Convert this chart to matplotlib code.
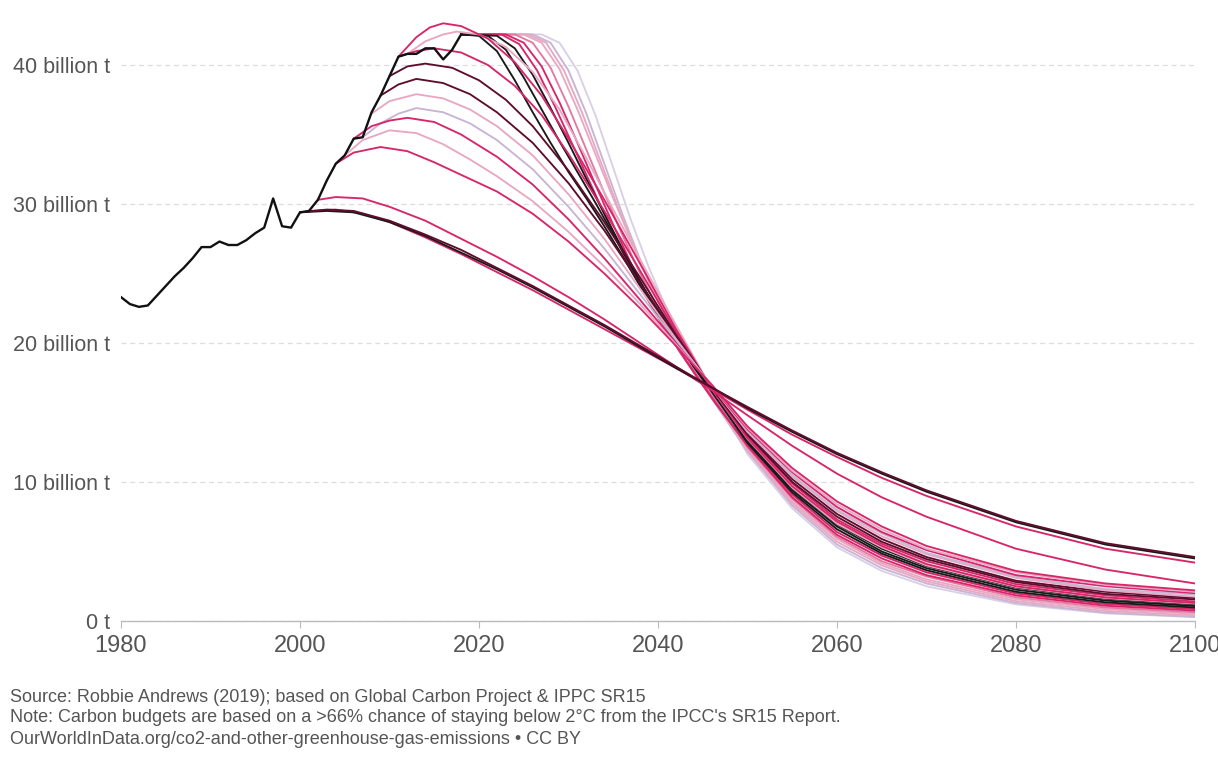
import matplotlib
matplotlib.use("Agg")
import matplotlib.pyplot as plt

plt.rcParams['font.family'] = ['Liberation Sans', 'DejaVu Sans']

# Historical global CO2 emissions (billion t)
hist_years = list(range(1980, 2019))
hist_co2 = [23.3, 22.8, 22.6, 22.7, 23.4, 24.1, 24.8, 25.4, 26.1, 26.9,
            26.9, 27.3, 27.05, 27.05, 27.4, 27.9, 28.3, 30.4, 28.4, 28.3,
            29.4, 29.5, 30.3, 31.7, 32.9, 33.5, 34.7, 34.8, 36.6, 37.8,
            39.2, 40.6, 40.8, 40.8, 41.2, 41.2, 40.4, 41.1, 42.2]

# Mitigation pathways, (year, billion t)
path_2000a = [(2000, 29.4), (2003, 29.6), (2006, 29.5), (2010, 28.8), (2014, 27.8), (2018, 26.7),
              (2022, 25.4), (2026, 24.1), (2030, 22.7), (2034, 21.3), (2038, 19.8), (2042, 18.3),
              (2046, 16.8), (2050, 15.4), (2055, 13.7), (2060, 12.1), (2065, 10.7), (2070, 9.4),
              (2080, 7.2), (2090, 5.6), (2100, 4.6)]
path_2000b = [(2000, 29.4), (2003, 29.5), (2006, 29.4), (2010, 28.7), (2014, 27.7), (2018, 26.5),
              (2022, 25.3), (2026, 24.0), (2030, 22.6), (2034, 21.2), (2038, 19.7), (2042, 18.2),
              (2046, 16.8), (2050, 15.3), (2055, 13.6), (2060, 12.0), (2065, 10.6), (2070, 9.3),
              (2080, 7.1), (2090, 5.5), (2100, 4.5)]
path_2001 = [(2001, 29.5), (2004, 29.6), (2007, 29.3), (2010, 28.7), (2014, 27.6), (2018, 26.4),
             (2022, 25.1), (2026, 23.8), (2030, 22.4), (2034, 21.0), (2038, 19.6), (2042, 18.2),
             (2046, 16.7), (2050, 15.2), (2055, 13.4), (2060, 11.8), (2065, 10.3), (2070, 9.0),
             (2080, 6.8), (2090, 5.2), (2100, 4.2)]
path_2002 = [(2002, 30.3), (2004, 30.5), (2007, 30.4), (2010, 29.8), (2014, 28.8), (2018, 27.5),
             (2022, 26.2), (2026, 24.8), (2030, 23.3), (2034, 21.7), (2038, 20.0), (2042, 18.3),
             (2046, 16.6), (2050, 14.8), (2055, 12.6), (2060, 10.6), (2065, 8.9), (2070, 7.5),
             (2080, 5.2), (2090, 3.7), (2100, 2.7)]
path_2004 = [(2004, 32.9), (2006, 33.7), (2009, 34.1), (2012, 33.8), (2015, 33.0), (2018, 32.1),
             (2022, 30.9), (2026, 29.3), (2030, 27.3), (2034, 25.0), (2038, 22.5), (2042, 19.8),
             (2046, 17.0), (2050, 14.0), (2055, 11.0), (2060, 8.6), (2065, 6.8), (2070, 5.4),
             (2080, 3.6), (2090, 2.7), (2100, 2.2)]
path_2005 = [(2005, 33.5), (2007, 34.6), (2010, 35.3), (2013, 35.1), (2016, 34.3), (2019, 33.2),
             (2022, 32.0), (2026, 30.2), (2030, 28.0), (2034, 25.5), (2038, 22.8), (2042, 19.9),
             (2046, 17.0), (2050, 13.9), (2055, 10.8), (2060, 8.4), (2065, 6.6), (2070, 5.2),
             (2080, 3.5), (2090, 2.6), (2100, 2.1)]
path_2006 = [(2006, 34.7), (2008, 35.6), (2010, 36.0), (2012, 36.2), (2015, 35.9), (2018, 35.0),
             (2022, 33.4), (2026, 31.4), (2030, 28.9), (2034, 26.1), (2038, 23.1), (2042, 20.0),
             (2046, 16.9), (2050, 13.8), (2055, 10.7), (2060, 8.2), (2065, 6.4), (2070, 5.1),
             (2080, 3.3), (2090, 2.5), (2100, 2.0)]
path_2007 = [(2007, 34.8), (2009, 35.8), (2011, 36.5), (2013, 36.9), (2016, 36.6), (2019, 35.8),
             (2022, 34.6), (2026, 32.5), (2030, 29.8), (2034, 26.8), (2038, 23.5), (2042, 20.2),
             (2046, 16.9), (2050, 13.7), (2055, 10.5), (2060, 8.0), (2065, 6.3), (2070, 4.9),
             (2080, 3.2), (2090, 2.3), (2100, 1.9)]
path_2008 = [(2008, 36.5), (2010, 37.4), (2013, 37.9), (2016, 37.6), (2019, 36.8), (2022, 35.6),
             (2026, 33.5), (2030, 30.7), (2034, 27.5), (2038, 23.9), (2042, 20.3), (2046, 16.9),
             (2050, 13.6), (2055, 10.4), (2060, 7.9), (2065, 6.1), (2070, 4.8), (2080, 3.1),
             (2090, 2.2), (2100, 1.75)]
path_2009 = [(2009, 37.8), (2011, 38.6), (2013, 39.0), (2016, 38.7), (2019, 37.9), (2022, 36.6),
             (2026, 34.4), (2030, 31.5), (2034, 28.1), (2038, 24.3), (2042, 20.5), (2046, 16.8),
             (2050, 13.5), (2055, 10.2), (2060, 7.7), (2065, 5.9), (2070, 4.6), (2080, 2.9),
             (2090, 2.1), (2100, 1.65)]
path_2010 = [(2010, 39.2), (2012, 39.9), (2014, 40.1), (2017, 39.8), (2020, 38.9), (2023, 37.5),
             (2026, 35.6), (2030, 32.4), (2034, 28.7), (2038, 24.7), (2042, 20.6), (2046, 16.8),
             (2050, 13.4), (2055, 10.0), (2060, 7.5), (2065, 5.7), (2070, 4.45), (2080, 2.8),
             (2090, 1.95), (2100, 1.55)]
path_2011a = [(2011, 40.6), (2013, 41.0), (2015, 41.2), (2018, 40.9), (2021, 40.0), (2024, 38.5),
              (2027, 36.4), (2030, 33.6), (2034, 29.5), (2038, 25.2), (2042, 20.8), (2046, 16.7),
              (2050, 13.3), (2055, 9.9), (2060, 7.3), (2065, 5.55), (2070, 4.3), (2080, 2.65),
              (2090, 1.85), (2100, 1.4)]
path_2011b = [(2011, 40.6), (2013, 42.0), (2014.5, 42.7), (2016, 43.0), (2018, 42.8), (2021, 41.9),
              (2024, 40.2), (2027, 37.8), (2030, 34.7), (2034, 30.3), (2038, 25.7), (2042, 21.0),
              (2046, 16.7), (2050, 13.15), (2055, 9.7), (2060, 7.15), (2065, 5.4), (2070, 4.1),
              (2080, 2.5), (2090, 1.7), (2100, 1.3)]
path_2012 = [(2012, 40.8), (2014, 41.7), (2016, 42.2), (2017.5, 42.4), (2020, 42.2), (2023, 41.3),
             (2026, 39.5), (2029, 36.8), (2032, 33.3), (2035, 29.6), (2038, 26.0), (2042, 21.3),
             (2046, 16.7), (2050, 13.1), (2055, 9.6), (2060, 7.0), (2065, 5.3), (2070, 4.0),
             (2080, 2.45), (2090, 1.65), (2100, 1.25)]
path_2019 = [(2018, 42.2), (2020, 42.1), (2022, 41.0), (2024, 38.9), (2026, 36.6), (2028, 34.4),
             (2030, 32.3), (2032, 30.4), (2034, 28.4), (2036, 26.3), (2038, 24.1), (2040, 22.0),
             (2042, 20.1), (2044, 18.3), (2046, 16.6), (2050, 13.0), (2055, 9.55), (2060, 6.95),
             (2065, 5.2), (2070, 3.95), (2080, 2.4), (2090, 1.6), (2100, 1.2)]
path_2020 = [(2018, 42.2), (2021, 42.1), (2023, 41.1), (2025, 39.1), (2027, 36.8), (2029, 34.5),
             (2031, 32.3), (2033, 30.1), (2035, 27.8), (2037, 25.5), (2039, 23.3), (2041, 21.2),
             (2043, 19.3), (2045, 17.4), (2047, 15.7), (2050, 12.9), (2055, 9.4), (2060, 6.8),
             (2065, 5.0), (2070, 3.8), (2080, 2.25), (2090, 1.47), (2100, 1.08)]
path_2021 = [(2018, 42.2), (2022, 42.1), (2024, 41.2), (2026, 39.3), (2028, 36.9), (2030, 34.4),
             (2032, 31.8), (2034, 29.3), (2036, 26.8), (2038, 24.4), (2040, 22.3), (2042, 20.3),
             (2044, 18.3), (2046, 16.5), (2050, 12.8), (2055, 9.25), (2060, 6.6), (2065, 4.85),
             (2070, 3.65), (2080, 2.1), (2090, 1.34), (2100, 0.97)]
path_2022 = [(2018, 42.2), (2022.5, 42.2), (2024.5, 41.5), (2026.5, 39.6), (2028.5, 37.0),
             (2030.5, 34.2), (2032.5, 31.4), (2034.5, 28.6), (2036.5, 25.9), (2038.5, 23.5),
             (2040.5, 21.3), (2042.5, 19.3), (2044.5, 17.4), (2046.5, 15.6), (2050, 12.7),
             (2055, 9.1), (2060, 6.4), (2065, 4.7), (2070, 3.5), (2080, 1.98), (2090, 1.22),
             (2100, 0.86)]
path_2023 = [(2018, 42.2), (2023, 42.2), (2025, 41.6), (2027, 39.9), (2029, 37.3), (2031, 34.4),
             (2033, 31.4), (2035, 28.5), (2037, 25.7), (2039, 23.2), (2041, 21.0), (2043, 18.9),
             (2045, 17.0), (2047, 15.2), (2050, 12.6), (2055, 8.9), (2060, 6.2), (2065, 4.5),
             (2070, 3.3), (2080, 1.84), (2090, 1.1), (2100, 0.75)]
path_2024 = [(2018, 42.2), (2024, 42.2), (2026, 41.6), (2028, 39.8), (2030, 37.0), (2032, 33.9),
             (2034, 30.8), (2036, 27.8), (2038, 25.0), (2040, 22.5), (2042, 20.3), (2044, 18.2),
             (2046, 16.3), (2050, 12.5), (2055, 8.8), (2060, 6.05), (2065, 4.3), (2070, 3.2),
             (2080, 1.7), (2090, 0.97), (2100, 0.63)]
path_2025 = [(2018, 42.2), (2025, 42.2), (2027, 41.6), (2029, 39.7), (2031, 36.8), (2033, 33.6),
             (2035, 30.4), (2037, 27.4), (2039, 24.4), (2041, 21.8), (2043, 19.4), (2045, 17.2),
             (2047, 15.2), (2050, 12.3), (2055, 8.6), (2060, 5.9), (2065, 4.15), (2070, 3.0),
             (2080, 1.57), (2090, 0.85), (2100, 0.52)]
path_2026 = [(2018, 42.2), (2025.5, 42.2), (2027.5, 41.6), (2029.5, 39.6), (2031.5, 36.6),
             (2033.5, 33.2), (2035.5, 29.8), (2037.5, 26.6), (2039.5, 23.7), (2041.5, 21.1),
             (2043.5, 18.8), (2045.5, 16.7), (2047.5, 14.8), (2050, 12.3), (2055, 8.45),
             (2060, 5.7), (2065, 4.0), (2070, 2.85), (2080, 1.43), (2090, 0.72), (2100, 0.41)]
path_2027 = [(2018, 42.2), (2026, 42.2), (2028, 41.6), (2030, 39.6), (2032, 36.5), (2034, 32.9),
             (2036, 29.3), (2038, 26.0), (2040, 23.0), (2042, 20.4), (2044, 18.1), (2046, 16.0),
             (2050, 12.2), (2055, 8.3), (2060, 5.5), (2065, 3.8), (2070, 2.7), (2080, 1.3),
             (2090, 0.6), (2100, 0.3)]
path_2028 = [(2018, 42.2), (2027, 42.2), (2029, 41.6), (2031, 39.6), (2033, 36.4), (2035, 32.6),
             (2037, 28.8), (2039, 25.4), (2041, 22.4), (2043, 19.8), (2045, 17.5), (2047, 15.4),
             (2050, 12.0), (2055, 8.1), (2060, 5.3), (2065, 3.6), (2070, 2.5), (2080, 1.2),
             (2090, 0.55), (2100, 0.28)]

MAROON = '#5e0d2c'
CRIMSON = '#d7266a'
PINK = '#e27aa3'
LIGHT_PINK = '#e8a8c2'
LAVENDER = '#c8b4d4'
PALE_LAVENDER = '#d9cfe6'
BLACK = '#1a1a1a'

# drawn back to front
paths = [
    (path_2028, PALE_LAVENDER), (path_2027, LAVENDER), (path_2026, LIGHT_PINK),
    (path_2025, LIGHT_PINK), (path_2024, PINK), (path_2023, CRIMSON), (path_2022, CRIMSON),
    (path_2021, BLACK), (path_2020, BLACK), (path_2019, BLACK),
    (path_2012, LIGHT_PINK), (path_2011b, CRIMSON), (path_2011a, CRIMSON),
    (path_2010, MAROON), (path_2009, MAROON), (path_2008, LIGHT_PINK), (path_2007, LAVENDER),
    (path_2006, CRIMSON), (path_2005, LIGHT_PINK), (path_2004, CRIMSON),
    (path_2002, CRIMSON), (path_2001, CRIMSON), (path_2000b, BLACK), (path_2000a, MAROON),
]

fig = plt.figure(figsize=(12.18, 7.58), dpi=100)
ax = fig.add_axes([121 / 1218, 137 / 758, (1195 - 121) / 1218, 44 * 13.9 / 758])

for pts, color in paths:
    xs = [p[0] for p in pts]
    ys = [p[1] for p in pts]
    ax.plot(xs, ys, color=color, lw=1.35, solid_joinstyle='round', solid_capstyle='round')

ax.plot(hist_years, hist_co2, color='#111111', lw=1.7, zorder=5)

ax.set_xlim(1980, 2100)
ax.set_ylim(0, 44)

ax.set_yticks([0, 10, 20, 30, 40])
ax.set_yticklabels(['0 t', '10 billion t', '20 billion t', '30 billion t', '40 billion t'])
ax.set_xticks([1980, 2000, 2020, 2040, 2060, 2080, 2100])

ax.tick_params(axis='y', length=0, pad=8, labelsize=15.5, labelcolor='#555555')
ax.tick_params(axis='x', length=5, width=0.8, color='#bbbbbb', pad=5,
               labelsize=17, labelcolor='#555555')

ax.yaxis.grid(True, color='#dddddd', linestyle=(0, (4, 3)), lw=0.9)
ax.set_axisbelow(True)
for side in ['top', 'right', 'left']:
    ax.spines[side].set_visible(False)
ax.spines['bottom'].set_color('#bbbbbb')
ax.spines['bottom'].set_linewidth(1.0)

footer = [
    'Source: Robbie Andrews (2019); based on Global Carbon Project & IPPC SR15',
    "Note: Carbon budgets are based on a >66% chance of staying below 2°C from the IPCC's SR15 Report.",
    'OurWorldInData.org/co2-and-other-greenhouse-gas-emissions • CC BY',
]
for line, ypx in zip(footer, [697, 718, 740]):
    fig.text(10 / 1218, 1 - ypx / 758, line, fontsize=13, color='#555555', va='center')

fig.savefig('out.png', dpi=100, facecolor='white')
